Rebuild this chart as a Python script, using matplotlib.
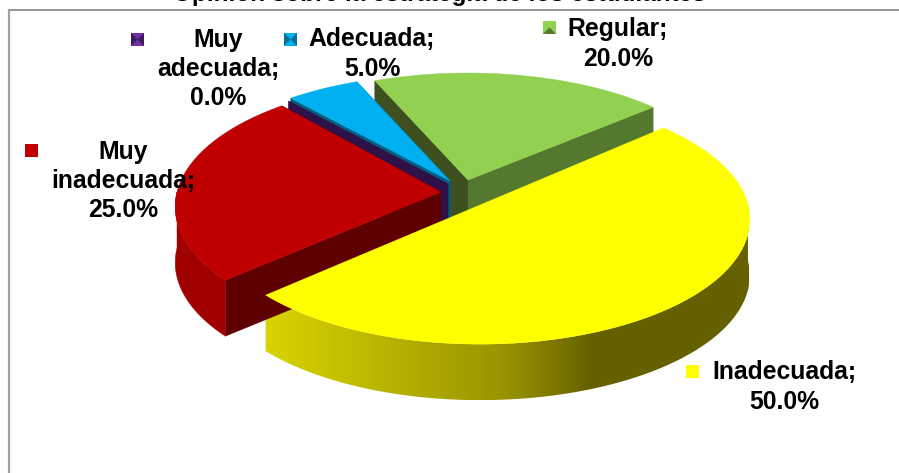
import numpy as np
import matplotlib
matplotlib.use("Agg")
import matplotlib.pyplot as plt
from matplotlib.colors import to_rgb
from matplotlib.patches import Polygon, Rectangle

plt.rcParams["font.family"] = ["Liberation Sans", "DejaVu Sans"]

# clockwise from the start angle, same order as the original sheet
categories = ["Inadecuada", "Muy\ninadecuada", "Muy\nadecuada", "Adecuada", "Regular"]
shares = [50.0, 25.0, 0.0, 5.0, 20.0]
title = "Opinión sobre la estrategia de los estudiantes"

START_ANGLE = 41
RX, RY = 264, 119.4
PERSPECTIVE = 0.116
DEPTH = 56

# exploded tips, in pixels, and per slice tweaks to fit the 3d view
tips = [(480, 205), (441, 192), (448, 184), (450, 181), (468, 180)]
rx_scale = [1.015, 1.0, 1.0, 1.0, 1.0]
ry_scale = [1.03, 1.04, 1.0, 1.0, 1.0]
angle_nudge = [1.5, 0, 0, 0, 0]
top_colors = ["#ffff00", "#c00000", "#7030a0", "#00b0f0", "#92d050"]
rim_colors = ["#8a8600", "#a00000", "#2e1148", "#005f80", "#55782f"]
cut_start_colors = ["#8a8600", "#5e0000", "#2e1148", "#005f80", "#3e5020"]
cut_end_colors = ["#8a8600", "#5e0000", "#2e1148", "#005f80", "#55782f"]
label_pos = [(784, 387), (123, 181), (218, 69), (372, 54), (618, 44)]
key_pos = [(686, 365), (25, 144), (131, 33), (284, 33), (543, 21)]
key_dark = [None, None, "#3c1a5c", "#0a6f95", "#55782f"]

# lighting of the yellow outer wall, left to right
YELLOW_X = [266, 400, 500, 570, 590, 745]
YELLOW_COLORS = ["#d8d400", "#b5b000", "#9a9500", "#746f00", "#656000", "#666200"]


def arc_points(i, a0, a1, n=160):
    t = np.radians(np.linspace(a0, a1, n))
    scale = 1 + PERSPECTIVE * np.sin(t)
    return np.column_stack([
        tips[i][0] + RX * rx_scale[i] * np.cos(t) / scale,
        tips[i][1] - RY * ry_scale[i] * np.sin(t) / scale,
    ])


def draw_cut_wall(ax, i, angle, color):
    tip = tips[i]
    edge = arc_points(i, angle, angle, 1)[0]
    quad = [tip, edge, (edge[0], edge[1] + DEPTH), (tip[0], tip[1] + DEPTH)]
    ax.add_patch(Polygon(quad, closed=True, fc=color, ec=color, lw=0.3))


def rim_polygon(i, a0, a1):
    # only the part of the rim that faces the viewer
    lo, hi = max(min(a0, a1), -180), min(max(a0, a1), 0)
    if hi <= lo:
        return None
    pts = arc_points(i, lo, hi)
    return np.vstack([pts, pts[::-1] + (0, DEPTH)])


def draw_yellow_rim(ax, outline):
    rgb = np.array([to_rgb(c) for c in YELLOW_COLORS])
    xs = np.arange(YELLOW_X[0] - 5, YELLOW_X[-1] + 5)
    ramp = np.column_stack([np.interp(xs, YELLOW_X, rgb[:, c]) for c in range(3)])
    im = ax.imshow(
        ramp[np.newaxis, :, :],
        extent=(xs[0], xs[-1], outline[:, 1].max(), outline[:, 1].min()),
        aspect="auto",
        interpolation="bilinear",
    )
    clip = Polygon(outline, closed=True, transform=ax.transData)
    im.set_clip_path(clip)


def draw_key(ax, x, y, color, dark, horizontal):
    size = 13
    ax.add_patch(Rectangle((x, y), size, size, fc=color, ec="none", zorder=5))
    if dark is None:
        return
    mid = (x + size / 2, y + size / 2)
    if horizontal:
        tri = [[(x, y), mid, (x, y + size)], [(x + size, y), mid, (x + size, y + size)]]
    else:
        tri = [[(x, y + size), mid, (x + size, y + size)]]
    for t in tri:
        ax.add_patch(Polygon(t, closed=True, fc=dark, ec="none", zorder=6))


fig = plt.figure(figsize=(8.99, 4.73), dpi=100)
ax = fig.add_axes([0, 0, 1, 1])
ax.axis("off")

# chart frame, only the top and left survive the crop
ax.plot([9, 899], [10.5, 10.5], color="#8c8c8c", lw=1.3)
ax.plot([9, 9], [10, 473], color="#a0a0a0", lw=1.6)
ax.text(439, 1, title, ha="center", va="baseline", fontsize=17.5, fontweight="bold", clip_on=False)

angles = START_ANGLE - np.cumsum([0] + shares) * 3.6
for i in [4, 3, 2, 1, 0]:  # back to front
    a0, a1 = angles[i] + angle_nudge[i], angles[i + 1] + angle_nudge[i]
    if i != 0:
        draw_cut_wall(ax, i, a0, cut_start_colors[i])
        draw_cut_wall(ax, i, a1, cut_end_colors[i])
    rim = rim_polygon(i, a0, a1)
    if rim is not None:
        if i == 0:
            draw_yellow_rim(ax, rim)
        else:
            ax.add_patch(Polygon(rim, closed=True, fc=rim_colors[i], ec=rim_colors[i], lw=0.3))
    if shares[i] > 0:
        top = np.vstack([[tips[i]], arc_points(i, a0, a1)])
        ax.add_patch(Polygon(top, closed=True, fc=top_colors[i], ec=top_colors[i], lw=0.3, zorder=2))

for i, (x, y) in enumerate(key_pos):
    draw_key(ax, x, y, top_colors[i], key_dark[i], horizontal=i in (2, 3))

for name, value, (x, y) in zip(categories, shares, label_pos):
    ax.text(
        x, y, f"{name};\n{value:.1f}%",
        ha="center", va="center", ma="center",
        fontsize=17.8, fontweight="bold", color="black",
        linespacing=1.28, zorder=10,
    )

ax.set_xlim(0, 899)
ax.set_ylim(473, 0)
fig.savefig("out.png", dpi=100)
